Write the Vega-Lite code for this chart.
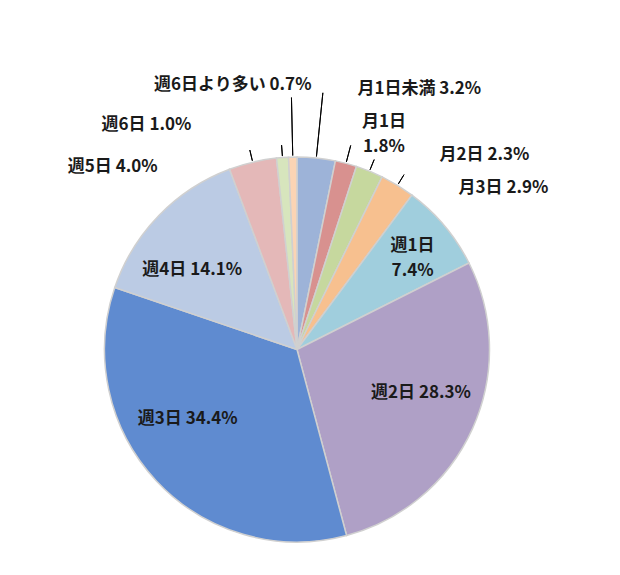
{
  "$schema": "https://vega.github.io/schema/vega-lite/v6.json",
  "width": 594,
  "height": 451,
  "padding": {"left": 0, "top": 124, "right": 26, "bottom": 0},
  "autosize": {"type": "none"},
  "background": "white",
  "data": {
    "values": [
      {"category": "月1日未満", "percent": 3.2},
      {"category": "月1日", "percent": 1.8},
      {"category": "月2日", "percent": 2.3},
      {"category": "月3日", "percent": 2.9},
      {"category": "週1日", "percent": 7.4},
      {"category": "週2日", "percent": 28.3},
      {"category": "週3日", "percent": 34.4},
      {"category": "週4日", "percent": 14.1},
      {"category": "週5日", "percent": 4.0},
      {"category": "週6日", "percent": 1.0},
      {"category": "週6日より多い", "percent": 0.7}
    ]
  },
  "transform": [
    {"window": [{"op": "row_number", "as": "idx"}]},
    {"calculate": "datum.category + ' ' + format(datum.percent, '.1f') + '%'", "as": "label"},
    {"calculate": "datum.category + '\\n' + format(datum.percent, '.1f') + '%'", "as": "label2"}
  ],
  "encoding": {
    "theta": {"field": "percent", "type": "quantitative", "stack": true},
    "order": {"field": "idx", "type": "quantitative"},
    "detail": {"field": "category"}
  },
  "layer": [
    {
      "mark": {"type": "arc", "radius": 192.5, "stroke": "#D0D0D0", "strokeWidth": 1.5},
      "encoding": {
        "color": {
          "field": "category",
          "type": "nominal",
          "legend": null,
          "scale": {
            "domain": ["月1日未満", "月1日", "月2日", "月3日", "週1日", "週2日", "週3日", "週4日", "週5日", "週6日", "週6日より多い"],
            "range": ["#9DB3D8", "#D8918F", "#C6D89E", "#F7C08F", "#A0CEDD", "#AFA0C6", "#5F8BD0", "#BBCBE4", "#E4B8B8", "#D7E5BD", "#FBD4B4"]
          }
        }
      }
    },
    {
      "mark": {"type": "arc", "radius": 252, "radius2": 194, "padAngle": 3, "fillOpacity": 0, "stroke": "#000", "strokeWidth": 1},
      "encoding": {"strokeOpacity": {"condition": {"test": "datum.category === '週6日より多い'", "value": 1}, "value": 0}}
    },
    {
      "mark": {"type": "arc", "radius": 258, "radius2": 194, "padAngle": 3, "fillOpacity": 0, "stroke": "#000", "strokeWidth": 1},
      "encoding": {"strokeOpacity": {"condition": {"test": "datum.category === '月1日未満'", "value": 1}, "value": 0}}
    },
    {
      "mark": {"type": "arc", "radius": 211, "radius2": 194, "padAngle": 3, "fillOpacity": 0, "stroke": "#000", "strokeWidth": 1},
      "encoding": {"strokeOpacity": {"condition": {"test": "datum.category === '月1日'", "value": 1}, "value": 0}}
    },
    {
      "mark": {"type": "arc", "radius": 205, "radius2": 194, "padAngle": 3, "fillOpacity": 0, "stroke": "#000", "strokeWidth": 1},
      "encoding": {"strokeOpacity": {"condition": {"test": "datum.category === '月2日' || datum.category === '月3日' || datum.category === '週6日' || datum.category === '週5日'", "value": 1}, "value": 0}}
    },
    {
      "mark": {"type": "text", "radius": 192.5, "dx": -60, "dy": -72, "font": "Noto Sans CJK JP", "fontSize": 17, "fontWeight": "bold", "fill": "#1a1a1a"},
      "encoding": {"text": {"condition": {"test": "datum.category === '週6日より多い'", "field": "label"}, "value": ""}}
    },
    {
      "mark": {"type": "text", "radius": 192.5, "dx": 103, "dy": -69, "font": "Noto Sans CJK JP", "fontSize": 17, "fontWeight": "bold", "fill": "#1a1a1a"},
      "encoding": {"text": {"condition": {"test": "datum.category === '月1日未満'", "field": "label"}, "value": ""}}
    },
    {
      "mark": {"type": "text", "radius": 192.5, "dx": 38, "dy": -41, "font": "Noto Sans CJK JP", "fontSize": 17, "fontWeight": "bold", "fill": "#1a1a1a", "lineBreak": "\n", "lineHeight": 25},
      "encoding": {"text": {"condition": {"test": "datum.category === '月1日'", "field": "label2"}, "value": ""}}
    },
    {
      "mark": {"type": "text", "radius": 192.5, "dx": 115, "dy": -16, "font": "Noto Sans CJK JP", "fontSize": 17, "fontWeight": "bold", "fill": "#1a1a1a"},
      "encoding": {"text": {"condition": {"test": "datum.category === '月2日'", "field": "label"}, "value": ""}}
    },
    {
      "mark": {"type": "text", "radius": 192.5, "dx": 106, "dy": 3, "font": "Noto Sans CJK JP", "fontSize": 17, "fontWeight": "bold", "fill": "#1a1a1a"},
      "encoding": {"text": {"condition": {"test": "datum.category === '月3日'", "field": "label"}, "value": ""}}
    },
    {
      "mark": {"type": "text", "radius": 192.5, "dx": -136, "dy": -32.5, "font": "Noto Sans CJK JP", "fontSize": 17, "fontWeight": "bold", "fill": "#1a1a1a"},
      "encoding": {"text": {"condition": {"test": "datum.category === '週6日'", "field": "label"}, "value": ""}}
    },
    {
      "mark": {"type": "text", "radius": 192.5, "dx": -140, "dy": 4.5, "font": "Noto Sans CJK JP", "fontSize": 17, "fontWeight": "bold", "fill": "#1a1a1a"},
      "encoding": {"text": {"condition": {"test": "datum.category === '週5日'", "field": "label"}, "value": ""}}
    },
    {
      "mark": {"type": "text", "radius": 147, "dx": 3, "dy": -8.5, "font": "Noto Sans CJK JP", "fontSize": 17, "fontWeight": "bold", "fill": "#1a1a1a", "lineBreak": "\n", "lineHeight": 25},
      "encoding": {"text": {"condition": {"test": "datum.category === '週1日'", "field": "label2"}, "value": ""}}
    },
    {
      "mark": {"type": "text", "radius": 131, "dx": 4.5, "dy": -10, "font": "Noto Sans CJK JP", "fontSize": 17, "fontWeight": "bold", "fill": "#1a1a1a"},
      "encoding": {"text": {"condition": {"test": "datum.category === '週2日'", "field": "label"}, "value": ""}}
    },
    {
      "mark": {"type": "text", "radius": 129, "dx": -15, "dy": -18.6, "font": "Noto Sans CJK JP", "fontSize": 17, "fontWeight": "bold", "fill": "#1a1a1a"},
      "encoding": {"text": {"condition": {"test": "datum.category === '週3日'", "field": "label"}, "value": ""}}
    },
    {
      "mark": {"type": "text", "radius": 132, "dx": -10, "dy": 12.4, "font": "Noto Sans CJK JP", "fontSize": 17, "fontWeight": "bold", "fill": "#1a1a1a"},
      "encoding": {"text": {"condition": {"test": "datum.category === '週4日'", "field": "label"}, "value": ""}}
    }
  ],
  "config": {"view": {"stroke": null}}
}
